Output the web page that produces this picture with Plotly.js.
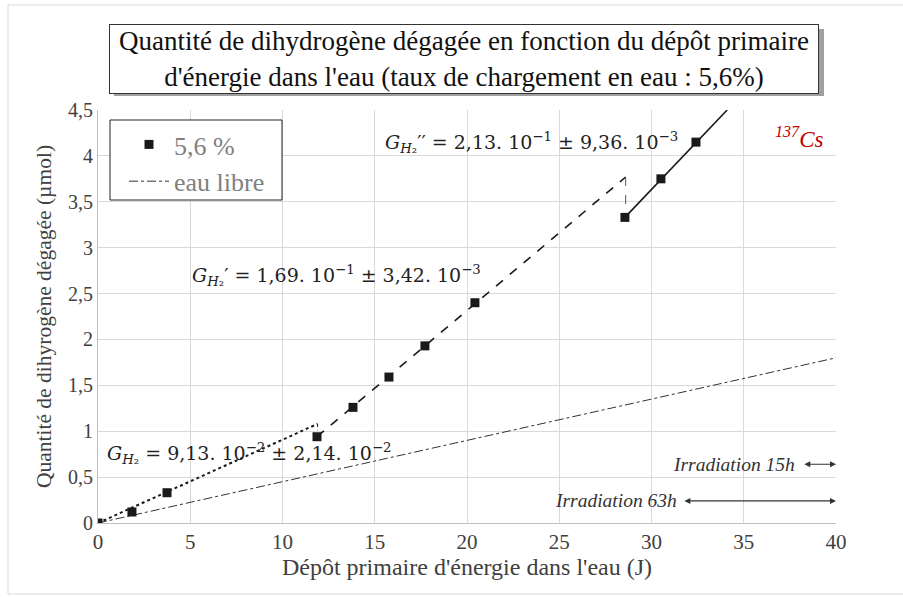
<!DOCTYPE html>
<html>
<head>
<meta charset="utf-8">
<script src="https://cdn.plot.ly/plotly-3.0.1.min.js"></script>
<style>html,body{margin:0;padding:0;background:#fff;}#chart{width:903px;height:597px;}</style>
</head>
<body>
<div id="chart"></div>
<script>
// Measured points (5,6 %)
const depotJ = [0, 1.84, 3.74, 11.87, 13.82, 15.77, 17.72, 20.43, 28.56, 30.51, 32.41];
const h2umol = [0, 0.12, 0.33, 0.94, 1.26, 1.59, 1.93, 2.40, 3.33, 3.75, 4.15];
// Fit segments (end points)
const fit1X = [0, 11.9], fit1Y = [0, 1.08];
const fit1TickX = [11.9, 11.9], fit1TickY = [1.08, 1.01];
const fit2X = [11.87, 28.6], fit2Y = [0.94, 3.77];
const jumpX = [28.6, 28.6], jumpY = [3.77, 3.33];
const fit3X = [28.56, 34.1], fit3Y = [3.33, 4.5];
// Free water reference
const eauX = [0, 40], eauY = [0, 1.8];
const xTicks = [0,5,10,15,20,25,30,35,40];
const yTicks = [0,0.5,1,1.5,2,2.5,3,3.5,4,4.5];
const yTickText = ['0','0,5','1','1,5','2','2,5','3','3,5','4','4,5'];

const serif = 'Liberation Serif, Times New Roman, serif';
const lineC = '#1a1a1a';

const traces = [
  {x: eauX, y: eauY, mode: 'lines', name: 'eau libre', line: {color: '#333', width: 1, dash: 'dashdot'}},
  {x: fit1X, y: fit1Y, mode: 'lines', showlegend: false, line: {color: lineC, width: 2, dash: 'dot'}},
  {x: fit1TickX, y: fit1TickY, mode: 'lines', showlegend: false, line: {color: lineC, width: 1, dash: 'dot'}},
  {x: fit2X, y: fit2Y, mode: 'lines', showlegend: false, line: {color: lineC, width: 1.6, dash: 'dash'}},
  {x: jumpX, y: jumpY, mode: 'lines', showlegend: false, line: {color: '#555', width: 1, dash: 'dash'}},
  {x: fit3X, y: fit3Y, mode: 'lines', showlegend: false, line: {color: lineC, width: 1.6}},
  {x: depotJ, y: h2umol, mode: 'markers', name: '5,6 %', marker: {symbol: 'square', size: 9, color: lineC}}
];

const W = 738, H = 413, L = 98, T = 110;
const px = v => (v - L) / W;
const py = v => (T + H - v) / H;

const eqFont = {family: 'DejaVu Serif, Liberation Serif, serif', size: 19, color: '#222'};
const layout = {
  width: 903, height: 597,
  margin: {l: L, r: 903 - L - W, t: T, b: 597 - T - H},
  paper_bgcolor: '#fff', plot_bgcolor: '#fff',
  font: {family: serif, color: '#404040'},
  showlegend: true,
  legend: {
    x: px(124), y: py(121), xanchor: 'left', yanchor: 'top',
    borderwidth: 0, bgcolor: 'rgba(0,0,0,0)',
    font: {family: serif, size: 26, color: '#808080'},
    traceorder: 'reversed', itemwidth: 40, tracegroupgap: 4
  },
  xaxis: {
    range: [0, 40], tickvals: xTicks, ticktext: xTicks.map(String),
    showgrid: true, gridcolor: '#d9d9d9', gridwidth: 1,
    zeroline: false, showline: true, linecolor: '#bfbfbf', ticks: '',
    tickfont: {family: serif, size: 21, color: '#404040'},
    title: {text: "Dépôt primaire d'énergie dans l'eau (J)", font: {family: serif, size: 24, color: '#404040'}, standoff: 4},
    fixedrange: true
  },
  yaxis: {
    range: [0, 4.5], tickvals: yTicks, ticktext: yTickText,
    showgrid: true, gridcolor: '#d9d9d9', gridwidth: 1,
    zeroline: false, showline: true, linecolor: '#bfbfbf', ticks: '',
    tickfont: {family: serif, size: 20, color: '#404040'},
    title: {text: 'Quantité de dihyrogène dégagée (µmol)', font: {family: serif, size: 21.5, color: '#404040'}, standoff: 10},
    fixedrange: true
  },
  shapes: [
    {type: 'rect', xref: 'paper', yref: 'paper', x0: px(8), x1: px(904), y0: py(5), y1: py(594),
     fillcolor: 'rgba(0,0,0,0)', line: {width: 1, color: '#d9d9d9'}, layer: 'below'},
    {type: 'rect', xref: 'paper', yref: 'paper', x0: px(114), x1: px(824), y0: py(29), y1: py(96),
     fillcolor: '#a0a0a0', line: {width: 0}, layer: 'above'},
    {type: 'rect', xref: 'paper', yref: 'paper', x0: px(110), x1: px(282), y0: py(120), y1: py(200),
     fillcolor: '#fff', line: {width: 1, color: '#222'}, layer: 'above'}
  ],
  annotations: [
    {xref: 'paper', yref: 'paper', x: px(464), y: py(59), xanchor: 'center', yanchor: 'middle',
     text: "Quantité de dihydrogène dégagée en fonction du dépôt primaire<br>d'énergie dans l'eau (taux de chargement en eau : 5,6%)",
     showarrow: false, font: {family: serif, size: 27, color: '#111'}, bgcolor: '#fff',
     bordercolor: '#333', borderwidth: 1, width: 706, height: 66, align: 'center'},
    {x: 0.38, y: 0.76, xanchor: 'left', yanchor: 'middle', showarrow: false, font: eqFont,
     text: '<i>G</i><sub><i>H</i>₂</sub> = 9,13. 10<sup>−2</sup> ± 2,14. 10<sup>−2</sup>'},
    {x: 4.99, y: 2.70, xanchor: 'left', yanchor: 'middle', showarrow: false, font: eqFont,
     text: "<i>G</i><sub><i>H</i>₂</sub>′ = 1,69. 10<sup>−1</sup> ± 3,42. 10<sup>−3</sup>"},
    {x: 15.45, y: 4.15, xanchor: 'left', yanchor: 'middle', showarrow: false, font: eqFont,
     text: "<i>G</i><sub><i>H</i>₂</sub>′′ = 2,13. 10<sup>−1</sup> ± 9,36. 10<sup>−3</sup>"},
    {x: 39.4, y: 4.20, xanchor: 'right', yanchor: 'middle', showarrow: false,
     font: {family: serif, size: 23, color: '#c00000'}, text: '<i><sup>137</sup>Cs</i>'},
    {x: 37.9, y: 0.64, xanchor: 'right', yanchor: 'middle', showarrow: false,
     font: {family: serif, size: 19.5, color: '#333'}, text: '<i>Irradiation 15h</i>'},
    {x: 31.5, y: 0.24, xanchor: 'right', yanchor: 'middle', showarrow: false,
     font: {family: serif, size: 19.5, color: '#333'}, text: '<i>Irradiation 63h</i>'},
    {x: 40, y: 0.64, ax: 38.2, ay: 0.64, axref: 'x', ayref: 'y', text: '', showarrow: true,
     arrowhead: 2, startarrowhead: 2, arrowside: 'end+start', arrowsize: 1, arrowwidth: 1.2, arrowcolor: '#333'},
    {x: 40, y: 0.24, ax: 31.7, ay: 0.24, axref: 'x', ayref: 'y', text: '', showarrow: true,
     arrowhead: 2, startarrowhead: 2, arrowside: 'end+start', arrowsize: 1, arrowwidth: 1.2, arrowcolor: '#333'}
  ]
};

Plotly.newPlot('chart', traces, layout, {displayModeBar: false, staticPlot: true});
</script>
</body>
</html>
